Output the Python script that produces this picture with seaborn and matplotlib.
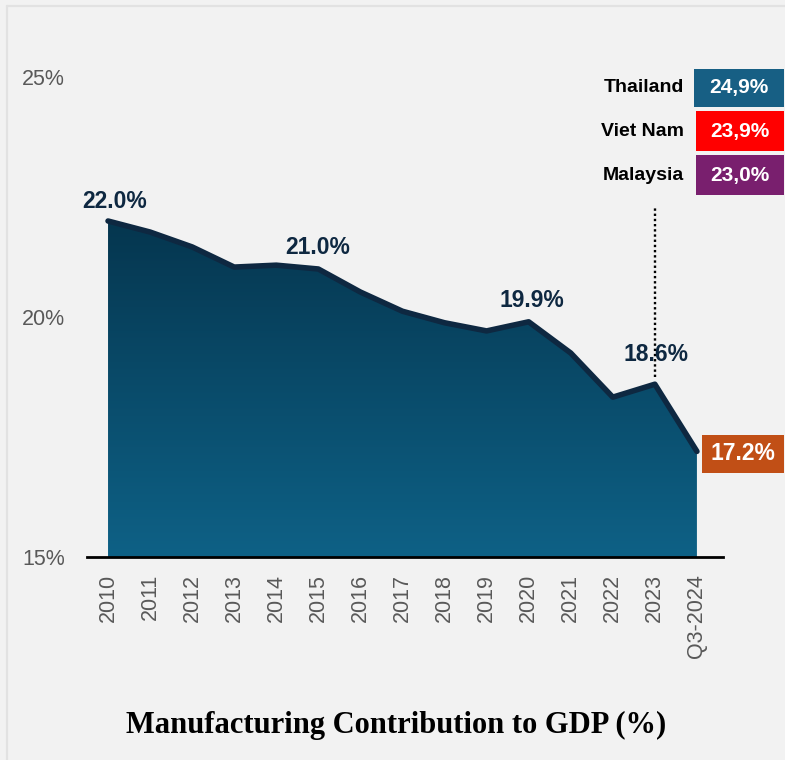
import numpy as np
import pandas as pd
import matplotlib
matplotlib.use("Agg")
import matplotlib.pyplot as plt
import seaborn as sns
from matplotlib.patches import Rectangle
from matplotlib.lines import Line2D
from matplotlib.colors import LinearSegmentedColormap

# Manufacturing share of GDP, annual plus latest quarter
periods = ["2010", "2011", "2012", "2013", "2014", "2015", "2016", "2017",
           "2018", "2019", "2020", "2021", "2022", "2023", "Q3-2024"]
share = [22.0, 21.77, 21.46, 21.04, 21.08, 21.0, 20.52, 20.12,
         19.88, 19.71, 19.9, 19.25, 18.33, 18.6, 17.2]
labelled_periods = ["2010", "2015", "2020", "2023"]
y_ticks = [15, 20, 25]
y_tick_labels = ["15%", "20%", "25%"]

# Regional peers
peers = ["Thailand", "Viet Nam", "Malaysia"]
peer_values = ["24,9%", "23,9%", "23,0%"]
peer_colors = ["#175f84", "#ff0000", "#791f6e"]

title = "Manufacturing Contribution to GDP (%)"

W, H = 785, 760
BG = "#f2f2f2"
LINE = "#0e2841"

sns.set_theme(style="white")
plt.rcParams["font.family"] = ["Liberation Sans", "DejaVu Sans"]

df = pd.DataFrame({"pos": np.arange(len(periods)), "share": share, "period": periods})

fig = plt.figure(figsize=(W / 100, H / 100), dpi=100, facecolor=BG)


def fx(px):
    return px / W


def fy(py):
    return 1 - py / H


ax = fig.add_axes([fx(87), fy(557), fx(723) - fx(87), fy(53) - fy(557)])
ax.set_facecolor(BG)
ax.set_xlim(-0.5, 14.62)
ax.set_ylim(15, 25.5)

# Gradient-filled area under the series
poly = ax.fill_between(df["pos"], df["share"], 15, color="none", lw=0)
cmap = LinearSegmentedColormap.from_list("area", ["#0e6186", "#05364f"])
grad = np.linspace(0, 1, 256).reshape(-1, 1)
im = ax.imshow(grad, extent=[0, len(periods) - 1, 15, max(share)],
               origin="lower", aspect="auto", cmap=cmap, zorder=1)
im.set_clip_path(poly.get_paths()[0], transform=ax.transData)
ax.set_xlim(-0.5, 14.62)
ax.set_ylim(15, 25.5)

sns.lineplot(data=df, x="pos", y="share", color=LINE, linewidth=4,
             solid_capstyle="round", ax=ax, zorder=3)

# Marker for the last full year
i2023 = periods.index("2023")
ax.plot([i2023, i2023], [18.75, 22.27], linestyle=(0, (1, 1.2)), color="black",
        lw=1.7, zorder=4)

# Value labels on selected points
offsets = {"2010": (7, 19), "2015": (-1, 21), "2020": (3, 21), "2023": (1, 30)}
for p in labelled_periods:
    i = periods.index(p)
    dx, dy = offsets[p]
    ax.annotate(f"{share[i]:.1f}%", (i, share[i]), xytext=(dx * 0.72, dy * 0.72),
                textcoords="offset points", ha="center", va="center",
                fontsize=16.5, fontweight="bold", color=LINE, zorder=5)

ax.set_xticks(df["pos"])
ax.set_xticklabels(periods, rotation=90, fontsize=15.5, color="#595959")
ax.set_yticks(y_ticks)
ax.set_yticklabels(y_tick_labels, fontsize=15.5, color="#595959")
ax.tick_params(axis="x", length=0, pad=12)
ax.tick_params(axis="y", length=0, pad=16)
for s in ["top", "right", "left"]:
    ax.spines[s].set_visible(False)
ax.spines["bottom"].set_color("black")
ax.spines["bottom"].set_linewidth(2)
ax.spines["bottom"].set_zorder(6)
ax.set_xlabel("")
ax.set_ylabel("")
ax.grid(False)

# Latest value callout
fig.patches.append(Rectangle((fx(702), fy(473)), fx(784) - fx(702), fy(435) - fy(473),
                             transform=fig.transFigure, facecolor="#c14f16", lw=0))
fig.text(fx(743), fy(454), f"{share[-1]:.1f}%", ha="center", va="center",
         fontsize=16.5, fontweight="bold", color="white")

# Peer comparison boxes
boxes = [(694, 69, 107), (696, 111, 151), (696, 155, 195)]
for name, val, col, (x0, y0, y1) in zip(peers, peer_values, peer_colors, boxes):
    fig.patches.append(Rectangle((fx(x0), fy(y1)), fx(784) - fx(x0), fy(y0) - fy(y1),
                                 transform=fig.transFigure, facecolor=col, lw=0))
    yc = (y0 + y1) / 2
    fig.text(fx((x0 + 784) / 2), fy(yc), val, ha="center", va="center",
             fontsize=15, fontweight="bold", color="white")
    fig.text(fx(684), fy(yc), name, ha="right", va="center",
             fontsize=14, fontweight="bold", color="black")

# Chart title
fig.text(fx(396), fy(725), title, ha="center", va="center",
         fontsize=22, fontweight="bold", color="black",
         family=["Liberation Serif", "DejaVu Serif"])

# Frame edges
fig.lines.append(Line2D([fx(6.5), fx(6.5)], [0, fy(5.5)], transform=fig.transFigure,
                        color="#e2e2e2", lw=1.6))
fig.lines.append(Line2D([fx(6.5), 1], [fy(5.5), fy(5.5)], transform=fig.transFigure,
                        color="#e2e2e2", lw=1.6))

fig.savefig("out.png", dpi=100, facecolor=BG)
